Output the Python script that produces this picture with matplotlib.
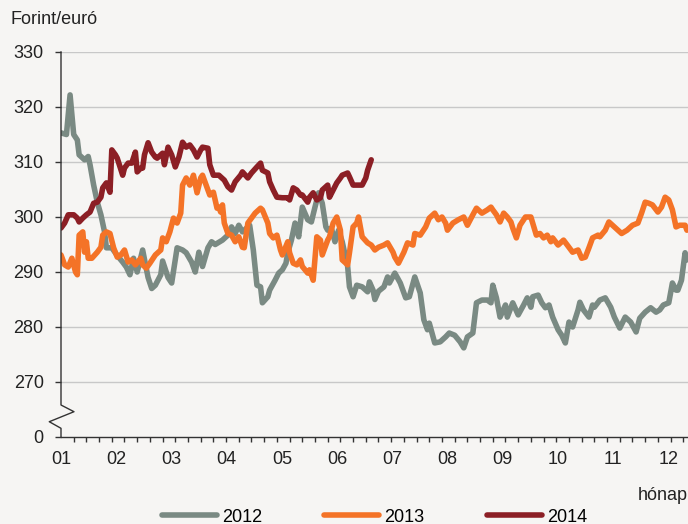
# Forint/euró árfolyam 2012-2014, hónapok szerint.

import matplotlib.pyplot as plt
from matplotlib.lines import Line2D

plt.rcParams['font.family'] = ['Liberation Sans', 'DejaVu Sans']

# Napok az év elejétől és az árfolyamok (leolvasva).
days_2012 = [0, 3, 5, 7, 9, 10, 13, 15, 16, 18, 20, 22, 24, 25, 28, 31, 34, 36, 38, 40,
             42, 45, 48, 50, 52, 55, 56, 59, 61, 64, 67, 69, 72, 74, 76, 78, 81, 83, 85, 89,
             92, 94, 96, 98, 100, 103, 104, 106, 108, 110, 111, 114, 115, 118, 120, 122, 124, 125, 127, 129,
             131, 133, 136, 138, 140, 142, 144, 146, 147, 149, 151, 153, 155, 158, 159, 161, 163, 166, 169, 170,
             172, 173, 175, 178, 180, 181, 184, 187, 190, 192, 195, 198, 200, 202, 203, 206, 209, 212, 214, 217,
             220, 222, 224, 227, 229, 232, 235, 237, 238, 240, 242, 245, 246, 249, 252, 255, 257, 259, 260, 263,
             265, 267, 269, 271, 274, 276, 278, 280, 282, 285, 286, 288, 291, 293, 294, 297, 300, 303, 305, 308,
             311, 314, 317, 319, 322, 325, 328, 330, 332, 335, 337, 339, 340, 342, 344, 345]
eur_2012 = [315.3, 315.0, 322.2, 315.0, 314.0, 311.3, 310.4, 311.0, 309.5, 305.8, 302.7, 300.4, 297.3, 294.4, 294.4, 293.0, 291.8, 290.9, 289.5, 292.5,
            290.0, 294.0, 289.0, 287.0, 287.6, 289.5, 292.0, 289.0, 288.0, 294.4, 294.0, 293.5, 291.8, 290.0, 293.6, 291.0, 294.4, 295.5, 295.0, 295.8,
            296.7, 298.2, 297.0, 298.5, 297.3, 298.2, 298.5, 294.0, 287.6, 287.3, 284.4, 285.5, 286.7, 288.5, 289.8, 290.4, 291.6, 293.5, 295.8, 298.9,
            296.4, 301.8, 299.5, 299.1, 301.8, 304.4, 302.5, 298.2, 297.6, 298.0, 295.5, 297.6, 295.5, 291.0, 287.3, 285.5, 287.6, 287.3, 286.4, 288.2,
            286.7, 285.0, 286.5, 287.3, 289.1, 288.0, 289.8, 288.0, 285.3, 285.5, 289.1, 286.2, 281.3, 279.5, 280.7, 277.1, 277.3, 278.2, 278.9, 278.5,
            277.3, 276.2, 278.2, 278.9, 284.4, 284.9, 284.9, 284.4, 287.6, 285.3, 281.8, 284.0, 281.8, 284.4, 282.2, 284.0, 285.3, 283.6, 285.5, 285.8,
            284.4, 283.5, 284.0, 281.8, 279.5, 278.5, 277.1, 280.9, 280.0, 283.1, 284.5, 283.1, 281.8, 284.0, 283.6, 284.9, 285.3, 283.6, 281.8, 279.8,
            281.8, 280.9, 279.1, 281.6, 282.7, 283.5, 282.7, 283.1, 284.0, 284.4, 288.0, 286.7, 286.7, 288.5, 293.5, 292.2]

days_2013 = [0, 2, 4, 6, 8, 9, 10, 12, 13, 14, 15, 17, 20, 22, 23, 25, 27, 29, 31, 33,
             35, 37, 39, 41, 44, 45, 47, 49, 52, 55, 56, 58, 60, 62, 64, 66, 67, 69, 71, 73,
             75, 77, 78, 81, 82, 84, 86, 87, 88, 89, 90, 92, 94, 96, 98, 100, 101, 103, 105, 107,
             110, 111, 114, 115, 117, 119, 121, 122, 125, 126, 128, 130, 132, 133, 136, 137, 139, 141, 143, 144,
             147, 148, 150, 152, 154, 155, 158, 159, 161, 163, 164, 166, 169, 171, 173, 175, 178, 180, 183, 184,
             186, 189, 191, 194, 195, 198, 201, 203, 206, 208, 210, 212, 213, 216, 219, 222, 224, 227, 229, 232,
             235, 237, 238, 240, 242, 244, 246, 248, 249, 251, 253, 256, 259, 260, 262, 264, 266, 268, 270, 271,
             274, 277, 280, 282, 285, 287, 289, 291, 293, 296, 297, 300, 302, 304, 307, 309, 312, 315, 318, 320,
             322, 324, 326, 329, 331, 333, 335, 337, 339, 341, 344, 345]
eur_2013 = [293.1, 291.3, 290.9, 292.5, 290.0, 289.5, 296.7, 297.3, 293.6, 295.5, 292.5, 292.5, 293.6, 294.5, 296.7, 297.3, 297.0, 294.4, 292.7, 293.1,
            294.0, 291.8, 292.2, 291.3, 292.5, 291.3, 290.7, 291.6, 293.1, 294.0, 296.2, 295.5, 297.3, 299.8, 298.9, 300.7, 305.8, 307.1, 305.8, 307.6,
            304.4, 307.1, 307.6, 304.9, 304.0, 304.5, 301.6, 301.8, 300.9, 302.2, 298.9, 297.0, 296.7, 295.5, 296.4, 294.5, 294.4, 298.9, 299.8, 300.7,
            301.6, 301.3, 298.9, 297.0, 296.2, 296.7, 294.0, 293.1, 295.5, 293.5, 291.6, 291.3, 292.2, 291.0, 289.8, 290.4, 288.5, 296.4, 295.8, 293.1,
            295.8, 296.4, 298.9, 300.0, 297.6, 292.2, 291.3, 293.5, 298.2, 298.9, 300.0, 296.4, 295.3, 294.9, 294.0, 294.5, 294.9, 295.3, 293.6, 292.7,
            291.6, 293.6, 295.3, 294.9, 297.0, 296.7, 298.2, 299.8, 300.7, 299.5, 300.0, 298.9, 297.6, 298.9, 299.5, 300.0, 298.5, 300.4, 301.6, 300.7,
            301.3, 301.8, 301.3, 300.4, 299.1, 300.7, 300.0, 299.1, 298.0, 296.2, 298.5, 300.0, 300.0, 298.9, 296.7, 297.0, 296.2, 296.7, 295.5, 296.2,
            294.9, 295.8, 294.5, 293.6, 294.0, 292.5, 292.7, 294.4, 296.2, 296.7, 296.4, 297.6, 299.1, 298.5, 297.6, 297.0, 297.6, 298.5, 298.9, 300.7,
            302.7, 302.5, 302.2, 300.9, 301.8, 303.6, 303.1, 301.3, 298.2, 298.5, 298.5, 297.6]

days_2014 = [0, 2, 4, 7, 9, 10, 12, 14, 16, 18, 20, 22, 23, 25, 27, 28, 30, 31, 34, 35,
             37, 39, 41, 42, 44, 45, 46, 48, 50, 52, 53, 56, 57, 59, 61, 63, 65, 67, 69, 71,
             73, 75, 77, 78, 81, 82, 84, 87, 90, 92, 94, 96, 99, 100, 103, 105, 108, 110, 111, 114,
             115, 117, 119, 122, 125, 126, 128, 130, 132, 133, 136, 137, 139, 141, 143, 144, 147, 148, 150, 152,
             154, 155, 158, 159, 161, 163, 166, 168, 169, 171]
eur_2014 = [298.0, 298.9, 300.4, 300.4, 299.8, 299.1, 299.8, 300.4, 300.9, 302.5, 302.7, 303.6, 305.3, 306.2, 304.5, 312.2, 311.3, 310.7, 307.6, 308.9,
            309.8, 309.8, 311.8, 308.2, 308.9, 308.9, 311.3, 313.5, 311.8, 310.9, 310.7, 311.6, 309.5, 312.7, 311.3, 309.1, 310.9, 313.6, 312.7, 313.1,
            312.2, 310.9, 312.2, 312.7, 312.5, 309.5, 307.6, 307.6, 306.7, 305.5, 304.9, 306.4, 307.6, 308.2, 307.1, 308.0, 309.1, 309.8, 308.5, 308.0,
            306.4, 304.9, 303.6, 303.5, 303.5, 303.1, 305.3, 304.9, 304.0, 304.0, 302.7, 303.6, 304.4, 303.1, 303.5, 304.9, 305.8, 303.6, 304.9, 306.2,
            307.1, 307.6, 308.0, 307.3, 305.8, 305.8, 305.8, 307.1, 308.5, 310.4]

month_labels = ['01', '02', '03', '04', '05', '06', '07', '08', '09', '10', '11', '12']
y_ticks = [260, 270, 280, 290, 300, 310, 320, 330]
y_labels = ['0', '270', '280', '290', '300', '310', '320', '330']

bg = '#f6f5f3'
fig = plt.figure(figsize=(6.88, 5.24), dpi=100, facecolor=bg)
ax = fig.add_axes([61 / 688, 1 - 437 / 524, 627 / 688, 385 / 524], facecolor=bg)

ax.plot(days_2012, eur_2012, color='#7a8a83', lw=4, label='2012', solid_joinstyle='round', solid_capstyle='round', zorder=3)
ax.plot(days_2013, eur_2013, color='#f47327', lw=4, label='2013', solid_joinstyle='round', solid_capstyle='round', zorder=3)
ax.plot(days_2014, eur_2014, color='#8c1f25', lw=4, label='2014', solid_joinstyle='round', solid_capstyle='round', zorder=4)

# Tengelyek
month_len = 30.44
ax.set_xlim(0, 345.6)
ax.set_ylim(260, 330)
ax.set_xticks([i * month_len for i in range(12)], month_labels)
ax.set_xticks(range(0, 346, 7), minor=True)
ax.tick_params(axis='x', which='major', length=0, pad=10, labelsize=13, colors='#222222')
ax.tick_params(axis='x', which='minor', length=3.5, width=1, direction='out', color='#333333')
ax.set_yticks(y_ticks, y_labels)
ax.tick_params(axis='y', length=4.5, width=1, pad=8, labelsize=13, colors='#222222')
ax.tick_params(axis='y', color='#333333')

for v in y_ticks[1:]:
    ax.axhline(v, color='#c8c8c8', lw=1, zorder=1)

for s in ['top', 'right', 'left']:
    ax.spines[s].set_visible(False)
ax.spines['bottom'].set_color('#333333')
ax.spines['bottom'].set_linewidth(1)

# Tengelytörés az y tengelyen
brk_x = [0, 0, 0.0207, -0.0187, 0, 0]
brk_y = [1, 0.0831, 0.0657, 0.0397, 0.0226, 0]
ax.add_line(Line2D(brk_x, brk_y, transform=ax.transAxes, color='#333333', lw=1, clip_on=False, zorder=5))

fig.text(10 / 688, 1 - 20 / 524, 'Forint/euró', fontsize=13, ha='left', va='center', color='#222222')
fig.text(1.0, 1 - 495 / 524, 'hónap', fontsize=13, ha='right', va='center', color='#222222')

fig.legend(loc='center', bbox_to_anchor=(374.5 / 688, 1 - 517 / 524), ncol=3, frameon=False,
           fontsize=13, handlelength=3.05, handletextpad=0.28, columnspacing=3.43)

plt.savefig('out.png', dpi=100, facecolor=bg)
